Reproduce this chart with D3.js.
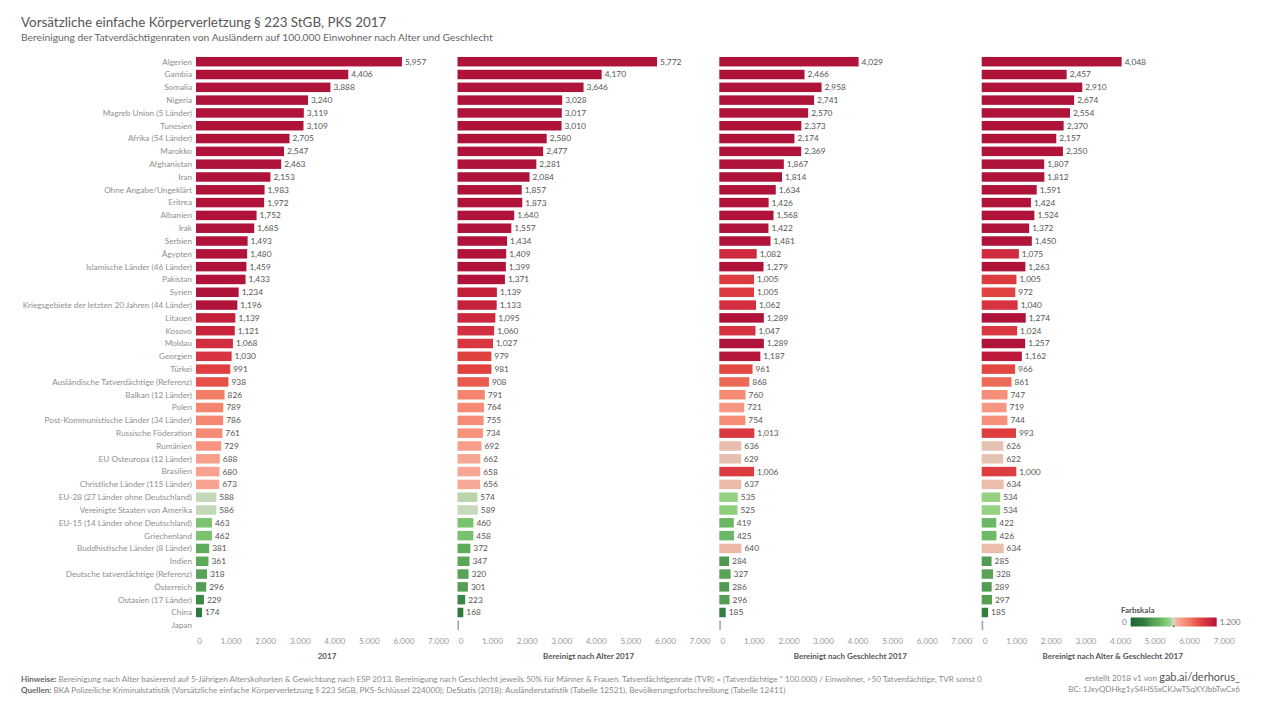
<!DOCTYPE html>
<html><head><meta charset="utf-8">
<script src="https://cdn.jsdelivr.net/npm/d3@7"></script>
<style>
html,body{margin:0;padding:0;background:#fff;}
svg{display:block;font-family:Lato,"Open Sans",sans-serif;}
</style></head>
<body>
<svg id="chart" width="1280" height="720"></svg>
<script>
const categories = ["Algerien","Gambia","Somalia","Nigeria","Magreb Union (5 Länder)","Tunesien","Afrika (54 Länder)","Marokko","Afghanistan","Iran","Ohne Angabe/Ungeklärt","Eritrea","Albanien","Irak","Serbien","Ägypten","Islamische Länder (46 Länder)","Pakistan","Syrien","Kriegsgebiete der letzten 20 Jahren (44 Länder)","Litauen","Kosovo","Moldau","Georgien","Türkei","Ausländische Tatverdächtige (Referenz)","Balkan (12 Länder)","Polen","Post-Kommunistische Länder (34 Länder)","Russische Föderation","Rumänien","EU Osteuropa (12 Länder)","Brasilien","Christliche Länder (115 Länder)","EU-28 (27 Länder ohne Deutschland)","Vereinigte Staaten von Amerika","EU-15 (14 Länder ohne Deutschland)","Griechenland","Buddhistische Länder (8 Länder)","Indien","Deutsche tatverdächtige (Referenz)","Österreich","Ostasien (17 Länder)","China","Japan"];

const values2017 = [5957,4406,3888,3240,3119,3109,2705,2547,2463,2153,1983,1972,1752,1685,1493,1480,1459,1433,1234,1196,1139,1121,1068,1030,991,938,826,789,786,761,729,688,680,673,588,586,463,462,381,361,318,296,229,174,null];
const valuesAlter = [5772,4170,3646,3028,3017,3010,2580,2477,2281,2084,1857,1873,1640,1557,1434,1409,1399,1371,1139,1133,1095,1060,1027,979,981,908,791,764,755,734,692,662,658,656,574,589,460,458,372,347,320,301,223,168,0];
const valuesGeschlecht = [4029,2466,2958,2741,2570,2373,2174,2369,1867,1814,1634,1426,1568,1422,1481,1082,1279,1005,1005,1062,1289,1047,1289,1187,961,868,760,721,754,1013,636,629,1006,637,535,525,419,425,640,284,327,286,296,185,0];
const valuesAlterGeschlecht = [4048,2457,2910,2674,2554,2370,2157,2350,1807,1812,1591,1424,1524,1372,1450,1075,1263,1005,972,1040,1274,1024,1257,1162,966,861,747,719,744,993,626,622,1000,634,534,534,422,426,634,285,328,289,297,185,0];

const panelTitles = ["2017","Bereinigt nach Alter 2017","Bereinigt nach Geschlecht 2017","Bereinigt nach Alter & Geschlecht 2017"];
const axisTicks = [0,1000,2000,3000,4000,5000,6000,7000];
const legendDomain = [0,1200];

const title = "Vorsätzliche einfache Körperverletzung § 223 StGB, PKS 2017";
const subtitle = "Bereinigung der Tatverdächtigenraten von Ausländern auf 100.000 Einwohner nach Alter und Geschlecht";
const note1a = "Hinweise:";
const note1b = " Bereinigung nach Alter basierend auf 5-Jährigen Alterskohorten & Gewichtung nach ESP 2013. Bereinigung nach Geschlecht jeweils 50% für Männer & Frauen. Tatverdächtigenrate (TVR) = (Tatverdächtige * 100.000) / Einwohner, >50 Tatverdächtige, TVR sonst 0";
const note2a = "Quellen:";
const note2b = " BKA Polizeiliche Kriminalstatistik (Vorsätzliche einfache Körperverletzung § 223 StGB, PKS-Schlüssel 224000); DeStatis (2018): Ausländerstatistik (Tabelle 12521), Bevölkerungsfortschreibung (Tabelle 12411)";

const series = [values2017, valuesAlter, valuesGeschlecht, valuesAlterGeschlecht];

const svg = d3.select("#chart");

// color scale (diverging green - red, centre 600, clamped at 1200)
const color = d3.scaleLinear()
  .domain([0,174,229,300,381,460,535,588,600,622,636,656,700,760,826,865,938,975,1030,1150,1200])
  .range(["#1c6533","#2f7a3e","#3c8747","#559f54","#5eac5b","#79c26e","#94d180","#c5d8b9","#d9d9cb","#e4c3b3","#ebbcab","#f8a897","#f89c88","#f68b75","#f37e68","#ec6a57","#e65048","#e1433f","#d93541","#c21e3c","#b0133a"])
  .clamp(true);

const y = d3.scaleBand().domain(categories).range([55.3, 631.7]).paddingInner(0.26).paddingOuter(0.13);

const panelX0 = [196, 457.5, 719.3, 981.7];
const panelW = 242;

const fmtLabel = d3.format(",");
const de = d3.formatLocale({decimal:",", thousands:".", grouping:[3], currency:["","€"]});
const fmtTick = de.format(",");

// titles
svg.append("text").attr("x",21).attr("y",27).attr("font-size",13.4).attr("fill","#555").text(title);
svg.append("text").attr("x",21).attr("y",41).attr("font-size",10.3).attr("fill","#666").text(subtitle);

// category labels
svg.append("g").selectAll("text").data(categories).join("text")
  .attr("x",192).attr("y",d=>y(d)+y.bandwidth()/2).attr("dy","0.35em")
  .attr("text-anchor","end").attr("font-size",8.2).attr("fill","#909090").text(d=>d);

series.forEach((vals, i) => {
  const x = d3.scaleLinear().domain([0,7000]).range([panelX0[i], panelX0[i]+panelW]);
  const g = svg.append("g");
  const data = categories.map((c,j)=>({c, v: vals[j]})).filter(d=>d.v!==null);
  g.selectAll("rect").data(data).join("rect")
    .attr("x", x(0))
    .attr("y", d=>y(d.c))
    .attr("height", y.bandwidth())
    .attr("width", d=>Math.max(x(d.v)-x(0), 1.5))
    .attr("fill", d=> d.v===0 ? "#8fa89f" : color(d.v));
  g.selectAll("text.val").data(data.filter(d=>d.v>0)).join("text")
    .attr("class","val")
    .attr("x", d=>x(d.v)+3)
    .attr("y", d=>y(d.c)+y.bandwidth()/2).attr("dy","0.35em")
    .attr("font-size",8.4).attr("fill","#555").text(d=>fmtLabel(d.v));
  // axis
  const ax = svg.append("g").attr("transform",`translate(0,634)`)
    .call(d3.axisBottom(x).tickValues(axisTicks).tickFormat(fmtTick).tickSize(0).tickPadding(4));
  ax.select(".domain").remove();
  ax.selectAll("text").attr("font-size",8.2).attr("fill","#9a9a9a").attr("font-family","Lato,'Open Sans',sans-serif");
  ax.selectAll(".tick").filter(d=>d===0).select("text").attr("dx",3);
  svg.append("text").attr("x",(x.range()[0]+x.range()[1])/2+10).attr("y",659)
    .attr("text-anchor","middle").attr("font-size",8).attr("font-weight","bold").attr("fill","#555").text(panelTitles[i]);
});

// legend
const lg = svg.append("g");
const lx = d3.scaleLinear().domain(legendDomain).range([1130.7,1216.7]);
const defs = svg.append("defs");
const grad = defs.append("linearGradient").attr("id","lgrad");
d3.range(0,1201,25).forEach(v=>{
  grad.append("stop").attr("offset", (v/1200*100)+"%").attr("stop-color", color(v));
});
lg.append("text").attr("x",1121).attr("y",613).attr("font-size",8).attr("font-weight","bold").attr("fill","#555").text("Farbskala");
lg.append("rect").attr("x",lx(0)).attr("y",617.5).attr("width",lx(1200)-lx(0)).attr("height",9).attr("fill","url(#lgrad)");
lg.append("rect").attr("x",lx(600)-0.5).attr("y",625.5).attr("width",1.2).attr("height",1.5).attr("fill","#333");
lg.append("text").attr("x",lx(0)-4).attr("y",622).attr("dy","0.35em").attr("text-anchor","end").attr("font-size",8.2).attr("fill","#777").text(fmtTick(legendDomain[0]));
lg.append("text").attr("x",lx(1200)+3).attr("y",622).attr("dy","0.35em").attr("font-size",8.2).attr("fill","#777").text(fmtTick(legendDomain[1]));

// footer
const f1 = svg.append("text").attr("x",21).attr("y",682).attr("font-size",8.1).attr("fill","#8a8a8a");
f1.append("tspan").attr("font-weight","bold").attr("fill","#666").text(note1a);
f1.append("tspan").text(note1b);
const f2 = svg.append("text").attr("x",21).attr("y",693).attr("font-size",8.1).attr("fill","#8a8a8a");
f2.append("tspan").attr("font-weight","bold").attr("fill","#666").text(note2a);
f2.append("tspan").text(note2b);

const r1 = svg.append("text").attr("x",1240).attr("y",681).attr("text-anchor","end").attr("fill","#888");
r1.append("tspan").attr("font-size",8.2).text("erstellt 2018 v1 von ");
r1.append("tspan").attr("font-size",11).attr("fill","#555").text("gab.ai/derhorus_");
svg.append("text").attr("x",1240).attr("y",692).attr("text-anchor","end").attr("font-size",8).attr("fill","#888").text("BC: 1JxyQDHkg1yS4HSSxCKJwTSqXYJbbTwCx6");
</script>
</body></html>
